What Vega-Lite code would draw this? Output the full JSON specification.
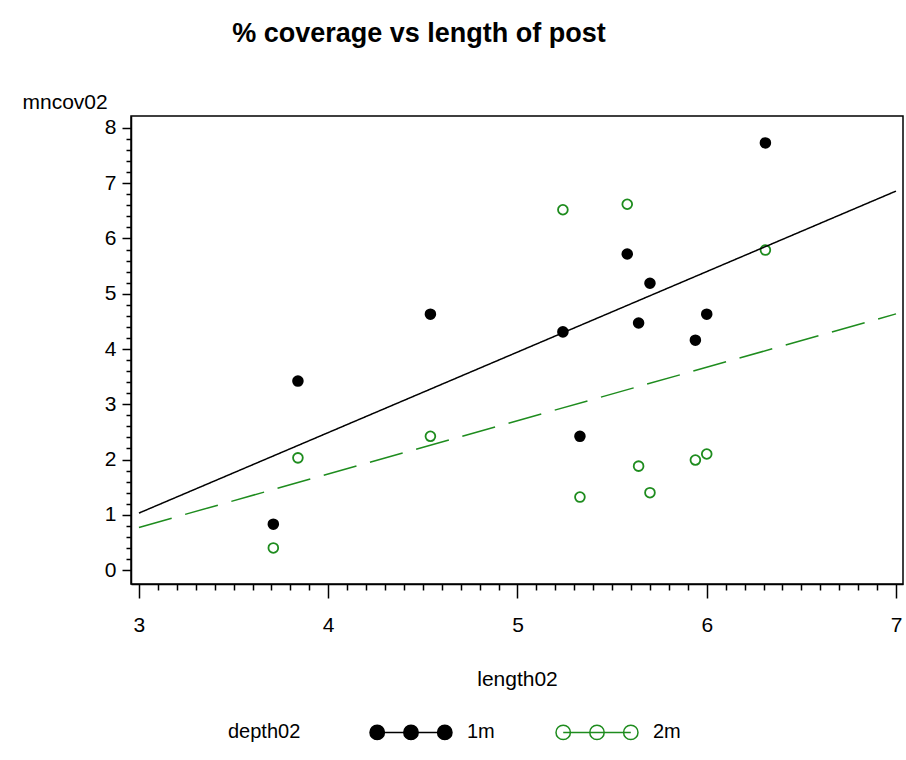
{
  "$schema": "https://vega.github.io/schema/vega-lite/v6.json",
  "width": 772,
  "height": 468,
  "autosize": {"type": "none"},
  "padding": {"left": 131, "top": 116, "right": 3, "bottom": 176},
  "background": "white",
  "config": {"font": "Liberation Sans", "view": {"stroke": "#000", "strokeWidth": 1.5}},
  "title": {"text": "% coverage vs length of post", "fontSize": 27, "fontWeight": "bold", "color": "#000", "anchor": "middle", "frame": "group", "dx": -98, "baseline": "alphabetic", "offset": 22},
  "data": {"values": [
    {"length02": 3.71, "mncov02": 0.83, "depth02": "1m"},
    {"length02": 3.84, "mncov02": 3.42, "depth02": "1m"},
    {"length02": 4.54, "mncov02": 4.63, "depth02": "1m"},
    {"length02": 5.24, "mncov02": 4.31, "depth02": "1m"},
    {"length02": 5.33, "mncov02": 2.42, "depth02": "1m"},
    {"length02": 5.58, "mncov02": 5.72, "depth02": "1m"},
    {"length02": 5.64, "mncov02": 4.47, "depth02": "1m"},
    {"length02": 5.70, "mncov02": 5.19, "depth02": "1m"},
    {"length02": 5.94, "mncov02": 4.16, "depth02": "1m"},
    {"length02": 6.00, "mncov02": 4.63, "depth02": "1m"},
    {"length02": 6.31, "mncov02": 7.73, "depth02": "1m"},
    {"length02": 3.71, "mncov02": 0.40, "depth02": "2m"},
    {"length02": 3.84, "mncov02": 2.03, "depth02": "2m"},
    {"length02": 4.54, "mncov02": 2.42, "depth02": "2m"},
    {"length02": 5.24, "mncov02": 6.52, "depth02": "2m"},
    {"length02": 5.33, "mncov02": 1.32, "depth02": "2m"},
    {"length02": 5.58, "mncov02": 6.62, "depth02": "2m"},
    {"length02": 5.64, "mncov02": 1.88, "depth02": "2m"},
    {"length02": 5.70, "mncov02": 1.40, "depth02": "2m"},
    {"length02": 5.94, "mncov02": 1.99, "depth02": "2m"},
    {"length02": 6.00, "mncov02": 2.10, "depth02": "2m"},
    {"length02": 6.31, "mncov02": 5.79, "depth02": "2m"}
  ]},
  "layer": [
    {
      "mark": {"type": "point", "shape": "circle", "size": 95, "strokeWidth": 1.8, "opacity": 1},
      "encoding": {
        "x": {"field": "length02", "type": "quantitative",
          "scale": {"domain": [2.958, 7.037], "nice": false, "zero": false},
          "axis": {
            "values": [3,3.1,3.2,3.3,3.4,3.5,3.6,3.7,3.8,3.9,4,4.1,4.2,4.3,4.4,4.5,4.6,4.7,4.8,4.9,5,5.1,5.2,5.3,5.4,5.5,5.6,5.7,5.8,5.9,6,6.1,6.2,6.3,6.4,6.5,6.6,6.7,6.8,6.9,7],
            "tickCount": 500,
            "labelExpr": "abs(datum.value - round(datum.value)) < 0.001 ? format(datum.value, 'd') : ''",
            "tickSize": {"condition": {"test": "abs(datum.value - round(datum.value)) < 0.001", "value": 14}, "value": 6},
            "grid": false, "domainColor": "#000", "domainWidth": 1.5, "tickColor": "#000", "tickWidth": 1.5,
            "labelFontSize": 21, "labelColor": "#000", "labelPadding": 16, "labelOverlap": false, "labelFlush": false, "labelBound": false,
            "title": "length02", "titleFontSize": 21, "titleFontWeight": "normal", "titleColor": "#000", "titleBaseline": "alphabetic", "titleY": 101
          }},
        "y": {"field": "mncov02", "type": "quantitative",
          "scale": {"domain": [-0.253, 8.217], "nice": false, "zero": false},
          "axis": {
            "values": [0,0.2,0.4,0.6,0.8,1,1.2,1.4,1.6,1.8,2,2.2,2.4,2.6,2.8,3,3.2,3.4,3.6,3.8,4,4.2,4.4,4.6,4.8,5,5.2,5.4,5.6,5.8,6,6.2,6.4,6.6,6.8,7,7.2,7.4,7.6,7.8,8],
            "tickCount": 500,
            "labelExpr": "abs(datum.value - round(datum.value)) < 0.001 ? format(datum.value, 'd') : ''",
            "tickSize": {"condition": {"test": "abs(datum.value - round(datum.value)) < 0.001", "value": 9}, "value": 5},
            "grid": false, "domainColor": "#000", "domainWidth": 1.5, "tickColor": "#000", "tickWidth": 1.5,
            "labelFontSize": 21, "labelColor": "#000", "labelPadding": 6, "labelOverlap": false, "labelFlush": false, "labelBound": false,
            "title": "mncov02", "titleAngle": 0, "titleAlign": "left", "titleBaseline": "alphabetic", "titleX": -109, "titleY": -8,
            "titleFontSize": 21, "titleFontWeight": "normal", "titleColor": "#000"
          }},
        "stroke": {"field": "depth02", "type": "nominal",
          "scale": {"domain": ["1m", "2m"], "range": ["#000000", "#1e8c1e"]},
          "legend": {"orient": "none", "legendX": 97, "legendY": 606, "direction": "horizontal", "title": "depth02",
            "titleOrient": "left", "titleAnchor": "middle", "titleBaseline": "middle", "titleFontSize": 20, "titleFontWeight": "normal", "titleColor": "#000", "titlePadding": 68,
            "labelFontSize": 20, "labelColor": "#000", "labelOffset": 78, "columnPadding": 58,
            "symbolType": "M-0.2,0L7.31,0M0.6,0A0.8,0.8 0 1,1 -1,0A0.8,0.8 0 1,1 0.6,0ZM4.355,0A0.8,0.8 0 1,1 2.755,0A0.8,0.8 0 1,1 4.355,0ZM8.11,0A0.8,0.8 0 1,1 6.51,0A0.8,0.8 0 1,1 8.11,0Z",
            "symbolSize": 324, "symbolStrokeWidth": 1.5, "padding": 0}},
        "fill": {"field": "depth02", "type": "nominal",
          "scale": {"domain": ["1m", "2m"], "range": ["#000000", "transparent"]},
          "legend": {"orient": "none", "legendX": 97, "legendY": 606, "direction": "horizontal", "title": "depth02",
            "titleOrient": "left", "titleAnchor": "middle", "titleBaseline": "middle", "titleFontSize": 20, "titleFontWeight": "normal", "titleColor": "#000", "titlePadding": 68,
            "labelFontSize": 20, "labelColor": "#000", "labelOffset": 78, "columnPadding": 58,
            "symbolType": "M-0.2,0L7.31,0M0.6,0A0.8,0.8 0 1,1 -1,0A0.8,0.8 0 1,1 0.6,0ZM4.355,0A0.8,0.8 0 1,1 2.755,0A0.8,0.8 0 1,1 4.355,0ZM8.11,0A0.8,0.8 0 1,1 6.51,0A0.8,0.8 0 1,1 8.11,0Z",
            "symbolSize": 324, "symbolStrokeWidth": 1.5, "padding": 0}}
      }
    },
    {
      "transform": [{"regression": "mncov02", "on": "length02", "groupby": ["depth02"], "extent": [3, 7]}],
      "mark": {"type": "line", "strokeWidth": 1.5},
      "encoding": {
        "x": {"field": "length02", "type": "quantitative"},
        "y": {"field": "mncov02", "type": "quantitative"},
        "detail": {"field": "depth02", "type": "nominal"},
        "stroke": {"field": "depth02", "type": "nominal", "legend": null},
        "strokeDash": {"condition": {"test": "datum.depth02 === '2m'", "value": [34, 14]}, "value": [1, 0]}
      }
    }
  ]
}
